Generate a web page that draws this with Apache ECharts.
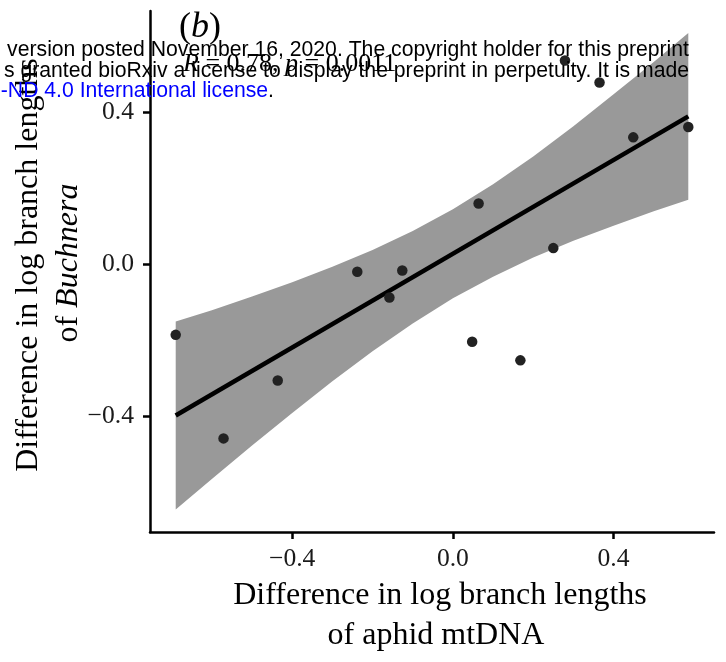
<!DOCTYPE html>
<html>
<head>
<meta charset="utf-8">
<script src="https://cdn.jsdelivr.net/npm/echarts@6/dist/echarts.min.js"></script>
<style>
  html, body { margin: 0; padding: 0; background: #fff; }
  #chart { width: 726px; height: 662px; }
</style>
</head>
<body>
<div id="chart"></div>
<script>
// difference in log branch lengths, one point per aphid pair
const mtDNA = [-0.690, -0.571, -0.436, -0.238, -0.158, -0.126, 0.048, 0.064, 0.168, 0.250, 0.279, 0.365, 0.449, 0.586]
const buchnera = [-0.186, -0.458, -0.306, -0.020, -0.088, -0.017, -0.204, 0.159, -0.253, 0.042, 0.535, 0.477, 0.333, 0.360]

// fitted line ends and the grey confidence band
const fitX = [-0.690, 0.586]
const fitY = [-0.398, 0.388]
const bandX = [-0.690, -0.6, -0.5, -0.4, -0.3, -0.2, -0.1, 0, 0.1, 0.2, 0.3, 0.4, 0.5, 0.586]
const bandLow = [-0.645, -0.565, -0.477, -0.391, -0.308, -0.229, -0.156, -0.090, -0.033, 0.017, 0.061, 0.101, 0.139, 0.169]
const bandHigh = [-0.151, -0.121, -0.085, -0.048, -0.007, 0.037, 0.087, 0.144, 0.210, 0.283, 0.362, 0.446, 0.531, 0.607]

const ticks = [-0.4, 0, 0.4]
const statLabel = '{i|R} = 0.78, {i|p} = 0.0011'

const serif = '"Liberation Serif", "Times New Roman", serif'
const sans = '"Liberation Sans", Arial, sans-serif'

function tickText (v) {
  return v < 0 ? '\u2212' + Math.abs(v).toFixed(1) : v.toFixed(1)
}

function axisCommon () {
  return {
    type: 'value',
    axisLine: { show: true, onZero: false, lineStyle: { color: '#000', width: 2.5 } },
    axisTick: { show: true, customValues: ticks, length: 7, lineStyle: { color: '#000', width: 2.5 } },
    axisLabel: {
      customValues: ticks,
      formatter: tickText,
      fontFamily: serif,
      fontSize: 25.6,
      color: '#1a1a1a'
    },
    splitLine: { show: false }
  }
}

const chart = echarts.init(document.getElementById('chart'))

const xAxis = axisCommon()
xAxis.min = -0.754
xAxis.max = 0.650
xAxis.axisLabel.margin = 14

const yAxis = axisCommon()
yAxis.min = -0.704
yAxis.max = 0.665
yAxis.axisLabel.margin = 16

chart.setOption({
  animation: false,
  backgroundColor: '#fff',
  grid: { left: 150, top: 11, right: 12, bottom: 130 },
  xAxis: xAxis,
  yAxis: yAxis,
  series: [
    {
      type: 'custom',
      data: [0],
      silent: true,
      z: 1,
      renderItem: function (params, api) {
        const pts = bandX.map((x, i) => api.coord([x, bandHigh[i]]))
        for (let i = bandX.length - 1; i >= 0; i--) {
          pts.push(api.coord([bandX[i], bandLow[i]]))
        }
        return { type: 'polygon', shape: { points: pts }, style: { fill: '#999999' } }
      }
    },
    {
      type: 'line',
      data: fitX.map((x, i) => [x, fitY[i]]),
      showSymbol: false,
      z: 2,
      lineStyle: { color: '#000', width: 4.5 }
    },
    {
      type: 'scatter',
      data: mtDNA.map((x, i) => [x, buchnera[i]]),
      symbolSize: 10.5,
      z: 3,
      itemStyle: { color: '#222', opacity: 1 }
    }
  ],
  graphic: [
    {
      type: 'text', x: 179, y: 28, z: 10,
      style: {
        text: '({i|b})', align: 'left', verticalAlign: 'middle',
        font: '36px ' + serif, fill: '#000',
        rich: { i: { fontStyle: 'italic', fontSize: 36, fontFamily: serif } }
      }
    },
    {
      type: 'text', x: 183, y: 64, z: 10,
      style: {
        text: statLabel, align: 'left', verticalAlign: 'middle',
        font: '26px ' + serif, fill: '#000',
        rich: { i: { fontStyle: 'italic', fontSize: 26, fontFamily: serif } }
      }
    },
    {
      type: 'text', x: 440, y: 596, z: 10,
      style: { text: 'Difference in log branch lengths', align: 'center', verticalAlign: 'middle', font: '32px ' + serif, fill: '#000' }
    },
    {
      type: 'text', x: 436, y: 636, z: 10,
      style: { text: 'of aphid mtDNA', align: 'center', verticalAlign: 'middle', font: '32px ' + serif, fill: '#000' }
    },
    {
      type: 'text', x: 29, y: 265, z: 10, rotation: Math.PI / 2,
      style: { text: 'Difference in log branch lengths', align: 'center', verticalAlign: 'middle', font: '32px ' + serif, fill: '#000' }
    },
    {
      type: 'text', x: 69, y: 263, z: 10, rotation: Math.PI / 2,
      style: {
        text: 'of {i|Buchnera}', align: 'center', verticalAlign: 'middle',
        font: '32px ' + serif, fill: '#000',
        rich: { i: { fontStyle: 'italic', fontSize: 32, fontFamily: serif } }
      }
    },
    // preprint watermark lying over the figure
    {
      type: 'text', x: 689, y: 50, z: 20,
      style: { text: 'version posted November 16, 2020. The copyright holder for this preprint', align: 'right', verticalAlign: 'middle', font: '21.2px ' + sans, fill: '#000' }
    },
    {
      type: 'text', x: 689, y: 71, z: 20,
      style: { text: 's granted bioRxiv a license to display the preprint in perpetuity. It is made', align: 'right', verticalAlign: 'middle', font: '21.2px ' + sans, fill: '#000' }
    },
    {
      type: 'text', x: 274, y: 91, z: 20,
      style: {
        text: '{b|-ND 4.0 International license}.', align: 'right', verticalAlign: 'middle',
        font: '21.2px ' + sans, fill: '#000',
        rich: { b: { fill: '#0000ff', fontSize: 21.2, fontFamily: sans } }
      }
    }
  ]
})
</script>
</body>
</html>
